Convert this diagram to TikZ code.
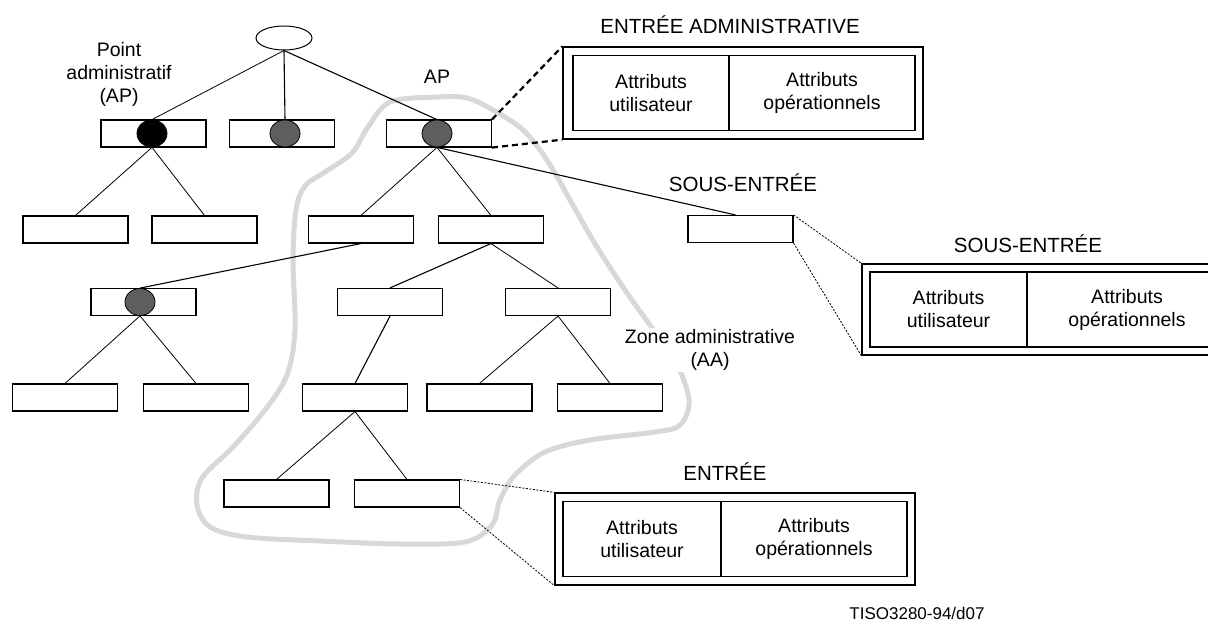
\documentclass[tikz,border=0pt]{standalone}
\usepackage{fontspec}
\setmainfont{Liberation Sans}
\usetikzlibrary{shapes.geometric}
\definecolor{dotgrey}{HTML}{5E5E5E}
\definecolor{zonegrey}{HTML}{D8D8D8}
\newcommand{\mytxt}{\fontsize{19.5}{23}\selectfont}
\newcommand{\myttl}{\fontsize{20.5}{24}\selectfont}
\newcommand{\mysmall}{\fontsize{17}{20}\selectfont}
\begin{document}
\begin{tikzpicture}[x=1pt,y=-1pt,
  tbox/.style={draw, line width=1.1pt, minimum width=105pt, minimum height=27pt, inner sep=0pt},
  dotn/.style={ellipse, draw, line width=0.8pt, minimum width=30pt, minimum height=27pt, inner sep=0pt},
  greydot/.style={dotn, fill=dotgrey},
  tline/.style={line width=0.8pt},
  tlinek/.style={line width=1.1pt},
  cell/.style={draw, line width=1.1pt, minimum height=75pt, inner sep=0pt, align=center, font=\mytxt},
  outerbox/.style={draw, line width=1.3pt, inner sep=0pt},
  lbl/.style={align=center, font=\mytxt, inner sep=1pt},
  ttl/.style={font=\myttl, inner sep=0pt},
  thickdash/.style={line width=2.2pt, dash pattern=on 6pt off 4pt},
  thindash/.style={line width=0.8pt, dash pattern=on 2pt off 1.5pt}]
\clip (0,0) rectangle (1208,621);
% administrative area outline
\draw[line width=5pt, color=zonegrey] plot[smooth cycle, tension=0.55] coordinates {
 (437,97) (467,98) (493,110) (523,130) (547,160) (570,200) (597,247) (627,293)
 (650,325) (675,360) (689,400) (680,425) (655,432) (590,440) (545,452) (515,475)
 (500,500) (492,525) (465,542) (400,544) (320,541) (247,537) (210,527) (197,505)
 (202,478) (233,447) (265,410) (287,375) (295,330) (293,260) (296,210) (305,186)
 (325,172) (352,153) (368,127) (390,102)};
% root
\node[ellipse, draw, line width=1pt, minimum width=56pt, minimum height=24pt, inner sep=0pt, fill=white] (root) at (284,38) {};
% level 1
\node[tbox] (A) at (153.5,133.5) {};
\node[dotn, fill=black] (dA) at (152,133.5) {};
\node[tbox] (B) at (282,133.5) {};
\node[greydot] (dB) at (285,133.5) {};
\node[tbox] (C) at (439,133.5) {};
\node[greydot] (dC) at (437,133.5) {};
% level 2
\node[tbox] (D) at (75.5,229.5) {};
\node[tbox] (E) at (204.5,229.5) {};
\node[tbox] (F) at (361,229.5) {};
\node[tbox] (G) at (491,229.5) {};
\node[tbox] (H) at (740.5,229) {};
% level 3
\node[tbox] (I) at (143.5,302) {};
\node[greydot] (dI) at (140,302) {};
\node[tbox] (J) at (390,302) {};
\node[tbox] (K) at (558,302) {};
% level 4
\node[tbox] (L) at (65,397.5) {};
\node[tbox] (M) at (196,397.5) {};
\node[tbox] (N) at (355,397.5) {};
\node[tbox] (O) at (479.5,397.5) {};
\node[tbox] (P) at (610,397.5) {};
% level 5
\node[tbox] (Q) at (276.5,493.5) {};
\node[tbox] (R) at (407,493.5) {};
% connectors
\draw[tline] (root.south) -- (dA.north);
\draw[tlinek] (root.south) -- (dB.north);
\draw[tlinek] (root.south) -- (dC.north);
\draw[tline] (dA.south) -- (D.north);
\draw[tline] (dA.south) -- (E.north);
\draw[tline] (dC.south) -- (F.north);
\draw[tline] (dC.south) -- (G.north);
\draw[tlinek] (dC.south) -- ([xshift=-5pt]H.north);
\draw[tlinek] (F.south) -- (dI.north);
\draw[tlinek] (G.south) -- (J.north);
\draw[tline] (G.south) -- (K.north);
\draw[tline] (dI.south) -- (L.north);
\draw[tline] (dI.south) -- (M.north);
\draw[tlinek] (J.south) -- (N.north);
\draw[tline] (K.south) -- (O.north);
\draw[tline] (K.south) -- (P.north);
\draw[tline] (N.south) -- (Q.north);
\draw[tline] (N.south) -- (R.north);
% labels
\node[lbl] (pa) at (119,74) {Point\\administratif\\(AP)};
\node[lbl] (ap) at (437,77) {AP};
\node[lbl, fill=white] (zone) at (710,350) {Zone administrative\\(AA)};
% ENTREE ADMINISTRATIVE
\node[ttl] (t1) at (730,25) {ENTRÉE ADMINISTRATIVE};
\node[outerbox, minimum width=360pt, minimum height=92pt] (ADo) at (743,93) {};
\node[cell, minimum width=156pt] (ADl) at (651,93) {Attributs\\utilisateur};
\node[cell, minimum width=186pt] (ADr) at (822,93) {Attributs\\opérationnels};
\draw[thickdash] (C.north east) -- (ADo.north west);
\draw[thickdash] (C.south east) -- (ADo.south west);
% SOUS-ENTREE
\node[ttl] (t2) at (743,183) {SOUS-ENTRÉE};
\node[ttl] (t3) at (1028,244) {SOUS-ENTRÉE};
\node[outerbox, minimum width=375pt, minimum height=91pt] (SEo) at (1049.5,309.5) {};
\node[cell, minimum width=157pt] (SEl) at (948.5,309.5) {Attributs\\utilisateur};
\node[cell, minimum width=200pt] (SEr) at (1127,309.5) {Attributs\\opérationnels};
\draw[thindash] (H.north east) -- (SEo.north west);
\draw[thindash] (H.south east) -- (SEo.south west);
% ENTREE
\node[ttl] (t4) at (725,472) {ENTRÉE};
\node[outerbox, minimum width=360pt, minimum height=92pt] (Eo) at (735,539) {};
\node[cell, minimum width=158pt] (El) at (642,539) {Attributs\\utilisateur};
\node[cell, minimum width=186pt] (Er) at (814,539) {Attributs\\opérationnels};
\draw[thindash] (R.north east) -- (Eo.north west);
\draw[thindash] (R.south east) -- (Eo.south west);
% reference
\node[font=\mysmall, inner sep=0pt] (ref) at (917,613) {TISO3280-94/d07};
\end{tikzpicture}
\end{document}
